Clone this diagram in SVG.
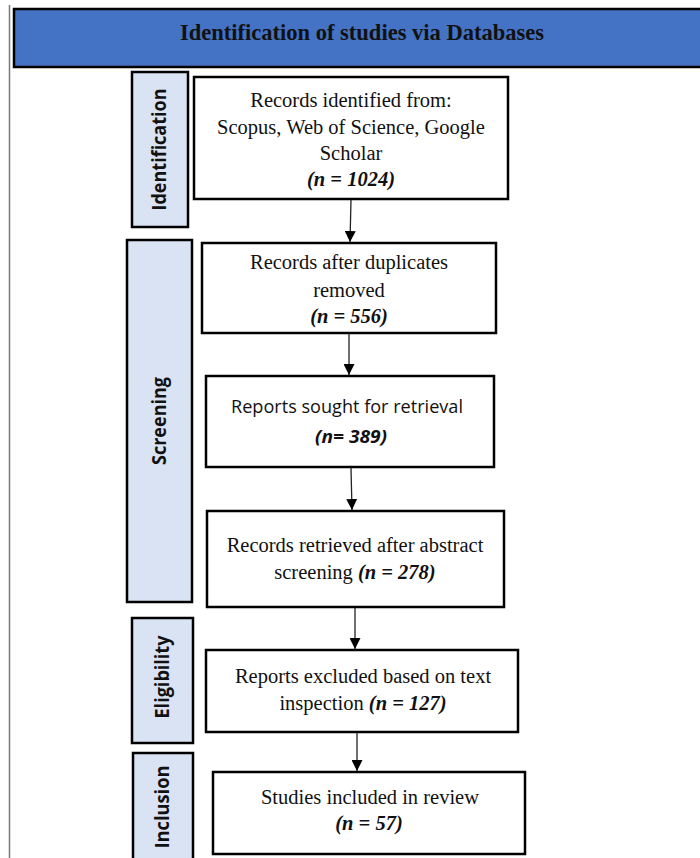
<svg xmlns="http://www.w3.org/2000/svg" width="700" height="858" viewBox="0 0 700 858">
  <defs>
    <marker id="arr" viewBox="0 0 10 10" refX="10" refY="5" markerWidth="11" markerHeight="11" markerUnits="userSpaceOnUse" orient="auto">
      <path d="M0,0 L10,5 L0,10 z" fill="#000"/>
    </marker>
    <style>
      .box { fill: #fff; stroke: #000; stroke-width: 2.5; }
      .side { fill: #DAE3F3; stroke: #000; stroke-width: 2.5; }
      .ser { font-family: "Liberation Serif", "Times New Roman", serif; font-size: 20.5px; fill: #111; text-anchor: middle; }
      .sans { font-family: "Open Sans", "Liberation Sans", sans-serif; font-size: 18px; fill: #111; text-anchor: middle; }
      .bi { font-weight: bold; font-style: italic; }
      .lab { font-family: "Open Sans", "Liberation Sans", sans-serif; font-size: 19px; font-weight: bold; fill: #111; text-anchor: middle; }
      .conn line { stroke: #222; stroke-width: 1.3; marker-end: url(#arr); }
    </style>
  </defs>
  <rect width="700" height="858" fill="#fff"/>
  <line x1="9.5" y1="5" x2="9.5" y2="858" stroke="#7a7a7a" stroke-width="1.5"/>

  <g id="header">
    <rect x="14" y="9" width="700" height="58" fill="#4472C4" stroke="#000" stroke-width="2.5"/>
    <text x="362" y="40" font-family="'Liberation Serif', 'Times New Roman', serif" font-size="24" font-weight="bold" fill="#111" text-anchor="middle" textLength="364" lengthAdjust="spacingAndGlyphs">Identification of studies via Databases</text>
  </g>

  <g id="lab-identification">
    <rect class="side" x="132" y="72" width="56" height="155"/>
    <text class="lab" transform="translate(166,149.5) rotate(-90)" x="0" y="0" textLength="122" lengthAdjust="spacingAndGlyphs">Identification</text>
  </g>
  <g id="lab-screening">
    <rect class="side" x="127" y="240" width="65" height="362"/>
    <text class="lab" transform="translate(166,421) rotate(-90)" x="0" y="0" textLength="88" lengthAdjust="spacingAndGlyphs">Screening</text>
  </g>
  <g id="lab-eligibility">
    <rect class="side" x="132" y="618" width="61" height="125"/>
    <text class="lab" transform="translate(169,677) rotate(-90)" x="0" y="0" textLength="83" lengthAdjust="spacingAndGlyphs">Eligibility</text>
  </g>
  <g id="lab-inclusion">
    <rect class="side" x="133" y="753" width="60" height="120"/>
    <text class="lab" transform="translate(169,807) rotate(-90)" x="0" y="0" textLength="83" lengthAdjust="spacingAndGlyphs">Inclusion</text>
  </g>

  <g id="n1">
    <rect class="box" x="194" y="77" width="314" height="122"/>
    <text class="ser" x="351" y="107">Records identified from:</text>
    <text class="ser" x="351" y="134">Scopus, Web of Science, Google</text>
    <text class="ser" x="351" y="160">Scholar</text>
    <text class="ser bi" x="351" y="186">(n = 1024)</text>
  </g>
  <g id="n2">
    <rect class="box" x="202" y="243" width="294" height="90"/>
    <text class="ser" x="349" y="269">Records after duplicates</text>
    <text class="ser" x="349" y="297">removed</text>
    <text class="ser bi" x="349" y="323">(n = 556)</text>
  </g>
  <g id="n3">
    <rect class="box" x="206" y="376" width="288" height="91"/>
    <text class="sans" x="347" y="413" textLength="232" lengthAdjust="spacingAndGlyphs">Reports sought for retrieval</text>
    <text class="sans bi" x="351" y="443" textLength="72" lengthAdjust="spacingAndGlyphs">(n= 389)</text>
  </g>
  <g id="n4">
    <rect class="box" x="207" y="511" width="297" height="96"/>
    <text class="ser" x="355" y="552">Records retrieved after abstract</text>
    <text class="ser" x="355" y="579">screening <tspan class="bi">(n = 278)</tspan></text>
  </g>
  <g id="n5">
    <rect class="box" x="206" y="650" width="312" height="82"/>
    <text class="ser" x="363" y="683">Reports excluded based on text</text>
    <text class="ser" x="363" y="710">inspection <tspan class="bi">(n = 127)</tspan></text>
  </g>
  <g id="n6">
    <rect class="box" x="213" y="772" width="312" height="82"/>
    <text class="ser" x="370" y="804">Studies included in review</text>
    <text class="ser bi" x="369" y="830">(n = 57)</text>
  </g>

  <g id="connectors" class="conn">
    <line x1="351" y1="200" x2="350" y2="242"/>
    <line x1="349" y1="334" x2="349" y2="375"/>
    <line x1="351" y1="468" x2="352" y2="510"/>
    <line x1="355" y1="608" x2="355" y2="649"/>
    <line x1="357" y1="733" x2="357" y2="771"/>
  </g>
</svg>
